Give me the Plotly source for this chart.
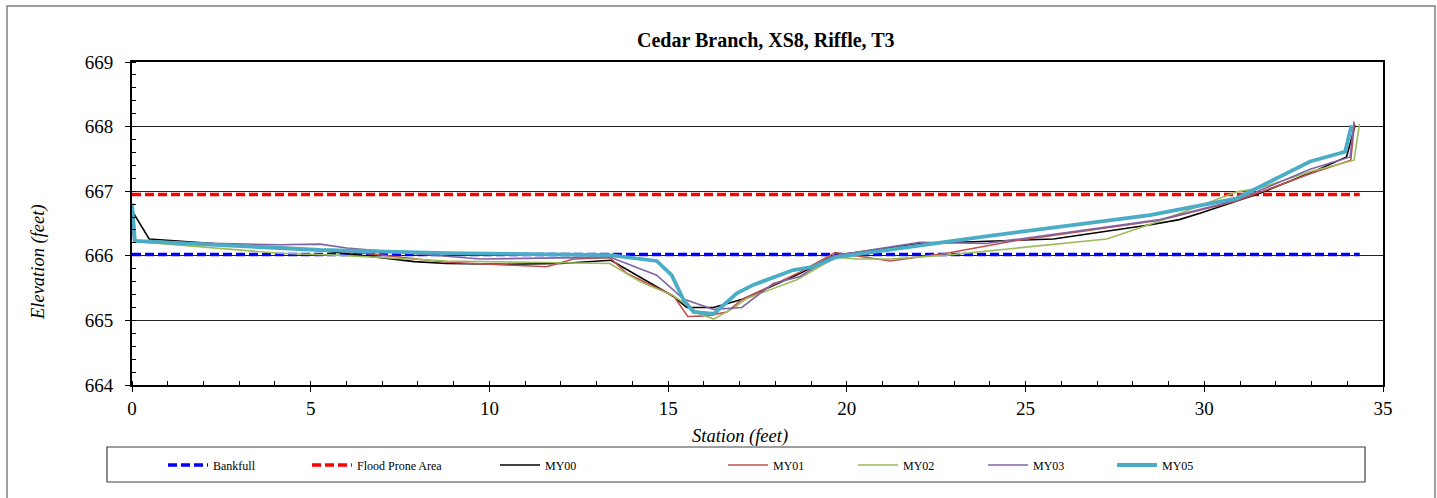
import plotly.graph_objects as go

# ---- data ----
bankfull_x = [0, 34.35]
bankfull_y = [666.02, 666.02]
flood_x = [0, 34.35]
flood_y = [666.95, 666.95]

my00_x = [0, 0.48, 4.1, 5.3, 7.9, 8.8, 10.5, 12.0, 13.4, 15.15, 15.52, 16.27, 17.1, 18.7,
          19.62, 22.05, 25.78, 27.46, 28.5, 29.3, 29.88, 31.56, 32.96, 33.98, 34.22]
my00_y = [666.70, 666.26, 666.12, 666.08, 665.91, 665.88, 665.87, 665.88, 665.93, 665.37, 665.20,
          665.20, 665.33, 665.73, 666.00, 666.19, 666.26, 666.39, 666.48, 666.56, 666.66, 666.97,
          667.28, 667.53, 668.02]

my01_x = [0, 0.05, 4.1, 6.5, 8.8, 10.5, 11.6, 12.35, 13.37, 13.84, 15.15, 15.55, 16.08, 16.64,
          17.06, 18.7, 19.67, 21.21, 22.79, 24.66, 28.76, 30.9, 32.96, 34.1, 34.2]
my01_y = [666.78, 666.22, 666.14, 666.04, 665.90, 665.86, 665.83, 665.95, 665.97, 665.73, 665.38,
          665.06, 665.07, 665.13, 665.32, 665.75, 666.05, 665.92, 666.04, 666.23, 666.55, 666.85,
          667.27, 667.48, 668.05]

my02_x = [0, 0.1, 4.1, 5.7, 8.8, 13.37, 14.21, 15.15, 15.89, 16.27, 16.83, 17.2, 18.6, 19.71,
          20.27, 21.21, 22.79, 27.27, 28.76, 30.91, 31.56, 32.96, 34.19, 34.34]
my02_y = [666.78, 666.22, 666.04, 666.01, 665.92, 665.88, 665.60, 665.38, 665.10, 665.02, 665.19,
          665.34, 665.63, 665.98, 665.95, 665.95, 666.01, 666.26, 666.54, 666.99, 667.05, 667.30,
          667.48, 668.04]

my03_x = [0, 0.05, 4.14, 5.26, 6.01, 9.74, 13.37, 14.68, 15.43, 16.27, 17.06, 17.94, 18.69,
          19.62, 22.05, 23.9, 28.76, 30.9, 32.96, 34.08, 34.19]
my03_y = [666.75, 666.22, 666.17, 666.18, 666.12, 665.95, 665.98, 665.70, 665.33, 665.17, 665.20,
          665.57, 665.68, 666.00, 666.21, 666.19, 666.56, 666.86, 667.34, 667.53, 668.08]

my05_x = [0, 0.08, 5.26, 8.8, 13.37, 14.68, 15.1, 15.43, 15.71, 16.27, 16.92, 17.38, 18.5,
          19.06, 19.71, 23.73, 28.48, 30.91, 32.96, 33.94, 34.12]
my05_y = [666.81, 666.23, 666.09, 666.04, 666.01, 665.92, 665.70, 665.32, 665.13, 665.10, 665.42,
          665.55, 665.78, 665.83, 665.98, 666.29, 666.63, 666.89, 667.46, 667.61, 668.02]

x_ticks = [0, 5, 10, 15, 20, 25, 30, 35]
y_ticks = [664, 665, 666, 667, 668, 669]

FONT = "Liberation Serif"

# pixel geometry of the plot area
W, H = 1437, 498
L, R, T, B = 132, 1383, 62, 385
PW, PH = R - L, B - T


def px(x):
    return (x - L) / PW


def py(y):
    return (B - y) / PH


series = [
    ("Bankfull", bankfull_x, bankfull_y, dict(color="#0000FF", width=3.5, dash="9px,4px"), 168),
    ("Flood Prone Area", flood_x, flood_y, dict(color="#FF0000", width=3.5, dash="9px,4px"), 312),
    ("MY00", my00_x, my00_y, dict(color="#000000", width=1.6), 500),
    ("MY01", my01_x, my01_y, dict(color="#C0504D", width=1.6), 728),
    ("MY02", my02_x, my02_y, dict(color="#9BBB59", width=1.6), 858),
    ("MY03", my03_x, my03_y, dict(color="#8064A2", width=1.6), 988),
    ("MY05", my05_x, my05_y, dict(color="#4BACC6", width=3.8), 1117),
]

fig = go.Figure()
legends = {}
for i, (name, xs, ys, line, lx) in enumerate(series):
    key = "legend" if i == 0 else f"legend{i + 1}"
    fig.add_trace(go.Scatter(x=xs, y=ys, mode="lines", name=name, line=line,
                             legend=key))
    legends[key] = dict(orientation="h", x=px(lx - 5), xanchor="left",
                        y=py(465), yanchor="middle", itemwidth=40,
                        font=dict(family=FONT, size=12, color="black"),
                        bgcolor="rgba(0,0,0,0)", borderwidth=0)

fig.update_layout(
    width=W, height=H,
    margin=dict(l=L, r=W - R, t=T, b=H - B, pad=0),
    paper_bgcolor="white", plot_bgcolor="white",
    font=dict(family=FONT, color="black"),
    showlegend=True,
    xaxis=dict(range=[0, 35], tickvals=x_ticks, ticktext=[str(v) for v in x_ticks],
               showgrid=False, zeroline=False,
               showline=True, linecolor="black", linewidth=2, mirror=True,
               ticks="outside", ticklen=5, tickcolor="black", tickwidth=1,
               minor=dict(dtick=1, ticks="inside", ticklen=4, tickcolor="black", showgrid=False),
               tickfont=dict(family=FONT, size=19, color="black")),
    yaxis=dict(range=[664, 669], tickvals=y_ticks, ticktext=[str(v) for v in y_ticks],
               showgrid=True, gridcolor="#222222", gridwidth=1, zeroline=False,
               showline=True, linecolor="black", linewidth=2, mirror=True,
               ticks="outside", ticklen=5, tickcolor="black", tickwidth=1,
               ticklabelstandoff=8,
               minor=dict(dtick=0.2, ticks="inside", ticklen=4, tickcolor="black", showgrid=False),
               tickfont=dict(family=FONT, size=19, color="black")),
    shapes=[
        # outer chart border
        dict(type="rect", xref="paper", yref="paper",
             x0=px(7), x1=px(1435), y0=py(520), y1=py(6),
             line=dict(color="#7f7f7f", width=1.5), layer="below"),
        # legend box
        dict(type="rect", xref="paper", yref="paper",
             x0=px(107), x1=px(1365), y0=py(482), y1=py(447),
             line=dict(color="#404040", width=1.2), layer="below"),
    ],
    annotations=[
        dict(text="<b>Cedar Branch, XS8, Riffle, T3</b>", xref="paper", yref="paper",
             x=px(766), y=py(40), xanchor="center", yanchor="middle", showarrow=False,
             font=dict(family=FONT, size=20, color="black")),
        dict(text="<i>Elevation (feet)</i>", xref="paper", yref="paper",
             x=px(38), y=py(262), xanchor="center", yanchor="middle", showarrow=False,
             textangle=-90, font=dict(family=FONT, size=18.5, color="black")),
        dict(text="<i>Station (feet)</i>", xref="paper", yref="paper",
             x=px(740), y=py(436), xanchor="center", yanchor="middle", showarrow=False,
             font=dict(family=FONT, size=18.5, color="black")),
    ],
    **legends,
)

fig.write_html("out.html", post_script="document.body.style.margin='0';",
               config={"displayModeBar": False})
